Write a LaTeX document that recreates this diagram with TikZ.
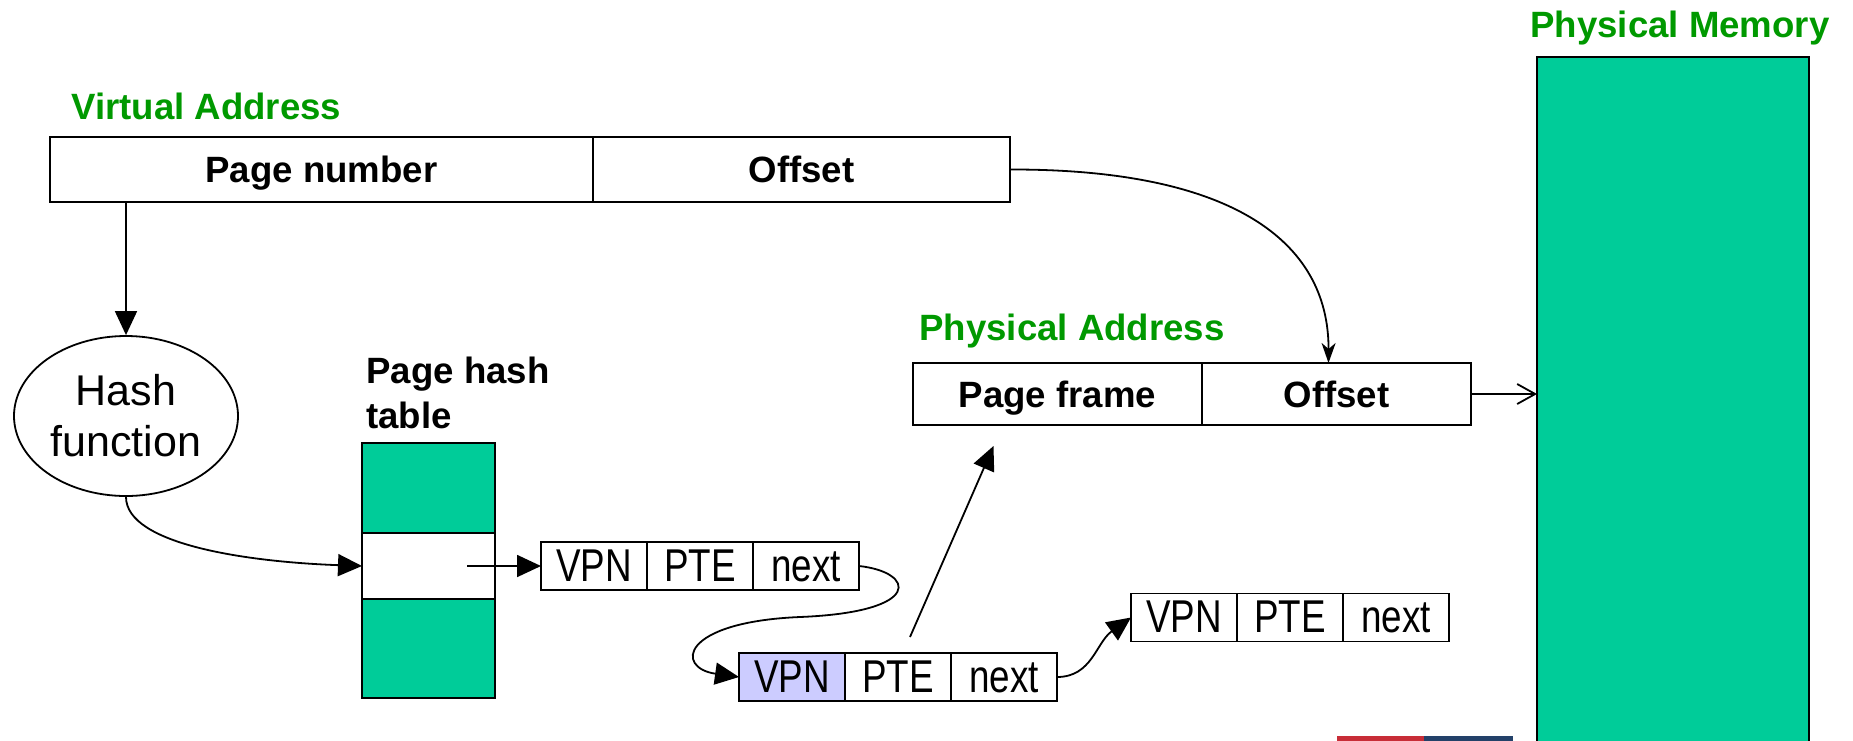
\documentclass[tikz,border=0pt]{standalone}
\usepackage{fontspec}
\setmainfont{Liberation Sans}
\usetikzlibrary{shapes.geometric, arrows.meta, positioning, calc}
\definecolor{memGreen}{RGB}{0,204,153}
\definecolor{labelGreen}{RGB}{0,153,0}
\definecolor{vpnBlue}{RGB}{204,204,255}
\definecolor{logoRed}{RGB}{200,45,55}
\definecolor{logoBlue}{RGB}{35,65,105}
\newcommand{\condtext}[1]{\scalebox{0.8}[1]{#1}}

\begin{document}
\begin{tikzpicture}[
    x=0.5pt, y=-0.5pt,
    field/.style={draw, line width=1.2pt, minimum height=32.5pt, inner sep=0pt, outer sep=0pt, text height=14.8pt, text depth=1.7pt, font=\fontsize{18.3}{22}\selectfont\bfseries},
    title/.style={text=labelGreen, inner sep=0pt, font=\fontsize{18.3}{22}\selectfont\bfseries},
    cell/.style={draw, line width=0.9pt, minimum width=53pt, minimum height=24pt, inner sep=0pt, outer sep=0pt, text height=16pt, text depth=1pt, font=\fontsize{23}{26}\selectfont},
    link/.style={-{Triangle[length=12pt, width=11pt]}, line width=0.9pt},
    barb/.style={-{Straight Barb[length=9pt, width=10pt]}, line width=0.9pt}
]
    \useasboundingbox (0,0) rectangle (1853,740);
    \fill[white] (0,0) rectangle (1853,740);

    % addresses and memory
    \node[title, anchor=west] (valabel) at (71,106) {Virtual Address};
    \node[field, minimum width=271.5pt, anchor=west] (pagenum) at (50,169.5) {Page number};
    \node[field, minimum width=208.5pt, right=0pt of pagenum] (vaoff) {Offset};

    \node[title, anchor=west] (palabel) at (919,331) {Physical Address};
    \node[field, minimum width=144.5pt, minimum height=31pt, anchor=west] (pframe) at (913,394) {Page frame};
    \node[field, minimum width=134.5pt, minimum height=31pt, right=0pt of pframe] (paoff) {Offset};

    \node[draw, fill=memGreen, line width=1pt, minimum width=136pt, minimum height=350pt, inner sep=0pt, outer sep=0pt, anchor=north west] (mem) at (1537,57) {};
    \node[title] (pmlabel) at (1680,28) {Physical Memory};

    % hash function and table
    \node[ellipse, draw, line width=0.9pt, minimum width=112pt, minimum height=80pt, inner sep=0pt, align=center, font=\fontsize{21.5}{25.5}\selectfont] (hashfn) at (126,416) {Hash\\function};

    \node[anchor=west, align=left, inner sep=0pt, font=\fontsize{18.3}{22.5}\selectfont\bfseries] (htlabel) at (366,393) {Page hash\\table};
    \node[draw, fill=memGreen, line width=1.2pt, minimum width=66.5pt, minimum height=127.5pt, inner sep=0pt, outer sep=0pt, anchor=north west] (htable) at (362,443) {};
    \node[draw, fill=white, line width=1.2pt, minimum width=66.5pt, minimum height=33pt, inner sep=0pt, outer sep=0pt, anchor=north west] (slot) at (362,533) {};

    % chain of entries
    \node[cell, anchor=west] (v1) at (541,566) {\condtext{VPN}};
    \node[cell, right=0pt of v1] (p1) {\condtext{PTE}};
    \node[cell, right=0pt of p1] (n1) {\condtext{next}};

    \node[cell, fill=vpnBlue, anchor=west] (v2) at (739,677) {\condtext{VPN}};
    \node[cell, right=0pt of v2] (p2) {\condtext{PTE}};
    \node[cell, right=0pt of p2] (n2) {\condtext{next}};

    \node[cell, anchor=west] (v3) at (1131,617.5) {\condtext{VPN}};
    \node[cell, right=0pt of v3] (p3) {\condtext{PTE}};
    \node[cell, right=0pt of p3] (n3) {\condtext{next}};

    % connectors
    \draw[link] (hashfn.north |- pagenum.south) -- (hashfn.north);
    \draw[link] (hashfn.south) .. controls (126,545) and (250,562) .. (slot.west);
    \draw[link] ($(slot.east)+(-28,0)$) -- (v1.west);
    \draw[link] (n1.east) .. controls (915,572) and (925,612) .. (800,617)
        .. controls (680,622) and (675,668) .. (v2.west);
    \draw[link] ($(p2.north)+(12,-16)$) -- ($(pframe.south)+(-64,21)$);
    \draw[link] (n2.east) .. controls +(35,0) and +(-35,25) .. (v3.west);
    \draw[-{Stealth[length=10pt, width=7pt, inset=3pt]}, line width=0.9pt] (vaoff.east)
        .. controls (1230,169) and (1329,240) .. ($(paoff.north)+(-8,0)$);
    \draw[barb] (paoff.east) -- (paoff.east -| mem.west);

    % logo strip
    \fill[logoRed] (1337,736) rectangle (1424,741);
    \fill[logoBlue] (1424,736) rectangle (1513,741);
\end{tikzpicture}
\end{document}
